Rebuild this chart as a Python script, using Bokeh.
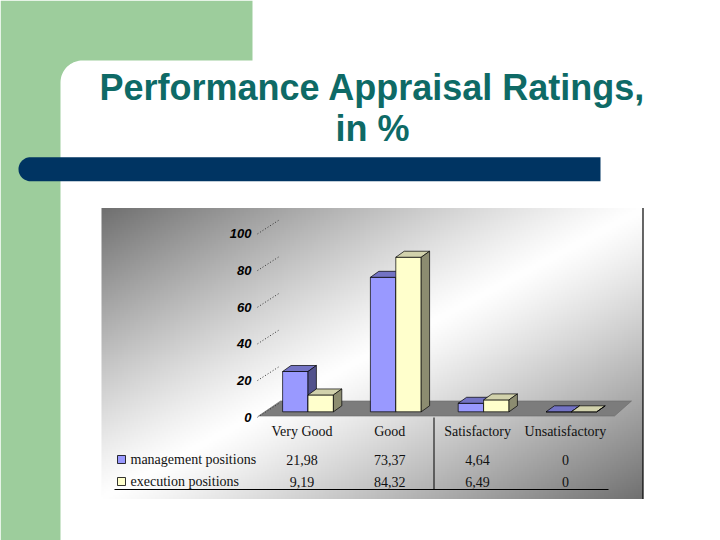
import numpy as np
from bokeh.plotting import figure
from bokeh.models import Range1d
from bokeh.core.properties import value
from bokeh.embed import file_html
from bokeh.resources import INLINE

# ---------------- data ----------------
categories = ["Very Good", "Good", "Satisfactory", "Unsatisfactory"]
series_names = ["management positions", "execution positions"]
management = [21.98, 73.37, 4.64, 0]
execution = [9.19, 84.32, 6.49, 0]
y_ticks = [0, 20, 40, 60, 80, 100]
title_lines = ["Performance Appraisal Ratings,", "in %"]

# ---------------- styles ----------------
GREEN = "#9dcd9c"
NAVY = "#003462"
TITLE_COLOR = "#0e6a66"
FRONT = ["#9999ff", "#ffffcc"]
TOP = ["#7373c4", "#d2d2ac"]
SIDE = ["#52528c", "#8c8c70"]

# page = reference pixel coordinates (y downwards)
W, H = 720, 540
X0, Y0 = 0, 0

p = figure(width=W, height=H, x_range=Range1d(X0, X0 + W), y_range=Range1d(Y0 + H, Y0),
           output_backend="svg", toolbar_location=None, min_border=0,
           x_axis_location=None, y_axis_location=None, outline_line_color=None,
           background_fill_color="white", border_fill_color="white")
p.grid.visible = False

# value scale and category scale for the chart
BASE_PX = 411.3
PX_PER_UNIT = 1.833
CAT0_PX = 307.5
CAT_STEP = 87.8
p.extra_y_ranges = {"val": Range1d((BASE_PX - (Y0 + H)) / PX_PER_UNIT, (BASE_PX - Y0) / PX_PER_UNIT)}
p.extra_x_ranges = {"cat": Range1d((X0 - CAT0_PX) / CAT_STEP, (X0 + W - CAT0_PX) / CAT_STEP)}

# ---------------- slide decoration ----------------
th = np.linspace(0, np.pi / 2, 20)
gx = [0, 252, 252, 82] + list(82 - 22 * np.sin(th)) + [60, 60, 0]
gy = [0, 0, 60, 60] + list(82 - 22 * np.cos(th)) + [82, 545, 545]
p.patch(gx, gy, fill_color=GREEN, line_color=None)

th2 = np.linspace(0, np.pi, 30)
nx_ = [600, 30] + list(30 - 12 * np.sin(th2)) + [600]
ny_ = [156.7, 156.7] + list(168.7 - 12 * np.cos(th2)) + [180.7]
p.patch(nx_, ny_, fill_color=NAVY, line_color=None)

p.text(x=[372, 372], y=[87, 128], text=title_lines, text_align="center",
       text_baseline="alphabetic", text_font=value("Liberation Sans"),
       text_font_style="bold", text_font_size="36px", text_color=TITLE_COLOR)

# ---------------- chart area background ----------------
BX0, BY0, BX1, BY1 = 101, 207.5, 642.5, 498.5
nx, ny = 271, 146
u = np.linspace(0, 1, nx)[None, :]
v = np.linspace(0, 1, ny)[:, None]
t = (u + v) / 2.0
g = 255 - (255 - 112) * np.abs(2 * t - 1) ** 1.15
g = np.clip(g, 0, 255).astype(np.uint8)
img = np.empty((ny, nx), dtype=np.uint32)
view = img.view(dtype=np.uint8).reshape((ny, nx, 4))
view[..., 0] = g
view[..., 1] = g
view[..., 2] = g
view[..., 3] = 255
p.image_rgba(image=[img], x=BX0, y=BY0, dw=BX1 - BX0, dh=BY1 - BY0)
p.segment(x0=[BX1], y0=[BY0], x1=[BX1], y1=[BY1], line_color="black", line_width=1.2)

# floor
FV_FRONT = -2.3
FV_BACK = 5.9
p.patch([258, 614, 631, 280], [FV_FRONT, FV_FRONT, FV_BACK, FV_BACK],
        y_range_name="val", fill_color="#7c7c7c", line_color="#6a6a6a", line_width=0.6)

# value axis: labels and dotted wall ticks
LBL_OFF = 5.4 / PX_PER_UNIT
WALL_DY = 13.5 / PX_PER_UNIT
p.segment(x0=[257] * len(y_ticks), y0=[tk - LBL_OFF for tk in y_ticks],
          x1=[278] * len(y_ticks), y1=[tk - LBL_OFF + WALL_DY for tk in y_ticks],
          y_range_name="val", line_color="#333333", line_dash="1 2", line_width=1)
p.text(x=[251] * len(y_ticks), y=[tk - LBL_OFF for tk in y_ticks], text=[str(tk) for tk in y_ticks],
       y_range_name="val", text_align="right", text_baseline="middle",
       text_font=value("Liberation Sans"), text_font_style="bold italic",
       text_font_size="13px", text_color="black")

# ---------------- 3D bars ----------------
BAR_W = 25.4 / CAT_STEP
DX = 8.4 / CAT_STEP
DY = 6.0 / PX_PER_UNIT
for s, vals in enumerate([management, execution]):
    xc = [i + (s - 0.5) * BAR_W for i in range(len(categories))]
    p.vbar(x=xc, width=BAR_W, top=vals, bottom=0, x_range_name="cat", y_range_name="val",
           fill_color=FRONT[s], line_color="black", line_width=0.7)
    txs, tys, sxs, sys_ = [], [], [], []
    for x, val in zip(xc, vals):
        xl, xr = x - BAR_W / 2, x + BAR_W / 2
        txs.append([xl, xr, xr + DX, xl + DX])
        tys.append([val, val, val + DY, val + DY])
        sxs.append([xr, xr + DX, xr + DX, xr])
        sys_.append([0, DY, val + DY, val])
    p.patches(txs, tys, x_range_name="cat", y_range_name="val",
              fill_color=TOP[s], line_color="black", line_width=0.7)
    p.patches(sxs, sys_, x_range_name="cat", y_range_name="val",
              fill_color=SIDE[s], line_color="black", line_width=0.7)

# ---------------- data table ----------------
def fmt(x):
    return "0" if x == 0 else f"{x:.2f}".replace(".", ",")

SERIF = value("Liberation Serif")
CAT_Y = 431
ROW_Y = [459, 481]
LBL_SHIFT = -6
p.text(x=list(range(len(categories))), y=[CAT_Y] * len(categories), text=categories,
       x_range_name="cat", x_offset=LBL_SHIFT, text_align="center", text_baseline="middle",
       text_font=SERIF, text_font_size="14px", text_color="#111111")
for s, vals in enumerate([management, execution]):
    p.text(x=list(range(len(categories))), y=[ROW_Y[s]] * len(categories), text=[fmt(x) for x in vals],
           x_range_name="cat", x_offset=LBL_SHIFT, text_align="center", text_baseline="middle",
           text_font=SERIF, text_font_size="14px", text_color="#111111")
p.rect(x=[121, 121], y=ROW_Y, width=8, height=8, fill_color=FRONT, line_color="black", line_width=0.8)
p.text(x=[130, 130], y=ROW_Y, text=series_names, text_align="left", text_baseline="middle",
       text_font=SERIF, text_font_size="14px", text_color="#111111")
p.segment(x0=[114, 433.5], y0=[489, 417], x1=[608, 433.5], y1=[489, 489],
          line_color="black", line_width=1)

open("out.html", "w").write(file_html(p, INLINE))
